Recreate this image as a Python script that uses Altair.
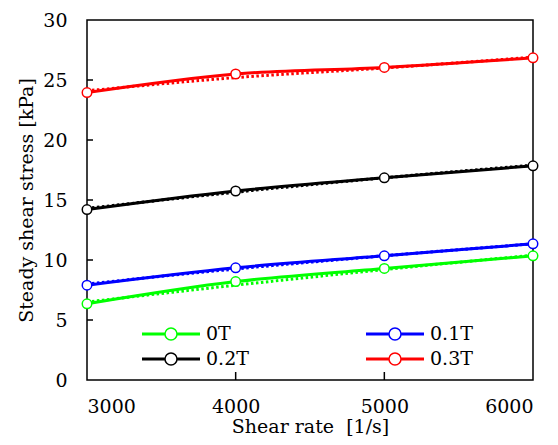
import altair as alt
import pandas as pd

shear_rate = [3000, 4000, 5000, 6000]
series = ["0T", "0.1T", "0.2T", "0.3T"]
colors = ["#00ff00", "#0000ff", "#000000", "#ff0000"]

stress_0T = [6.35, 8.2, 9.3, 10.35]
stress_01T = [7.9, 9.35, 10.35, 11.35]
stress_02T = [14.2, 15.75, 16.85, 17.85]
stress_03T = [23.95, 25.5, 26.05, 26.85]

fit_0T = [6.5, 7.9, 9.2, 10.4]
fit_01T = [8.0, 9.25, 10.35, 11.35]
fit_02T = [14.3, 15.65, 16.85, 17.9]
fit_03T = [24.1, 25.2, 26.0, 26.9]

y_tick_values = [0, 5, 10, 15, 20, 25, 30]
x_tick_values = [3000, 4000, 5000, 6000]
y_inner_ticks = [5, 10, 15, 20, 25]
x_inner_ticks = [4000, 5000]

measured = {"0T": stress_0T, "0.1T": stress_01T, "0.2T": stress_02T, "0.3T": stress_03T}
fitted = {"0T": fit_0T, "0.1T": fit_01T, "0.2T": fit_02T, "0.3T": fit_03T}

rows = []
for s in series:
    for i, x in enumerate(shear_rate):
        rows.append({"series": s, "rate": x, "stress": measured[s][i], "fit": fitted[s][i]})
df = pd.DataFrame(rows)

FONT = "DejaVu Serif"
FS = 19
W, H = 446, 360

xs = alt.Scale(domain=[3000, 6000], nice=False, zero=False)
ys = alt.Scale(domain=[0, 30], nice=False)
cs = alt.Scale(domain=series, range=colors)

# legend symbol: line with open circle (units of 10 px with symbolSize 400)
L = 2.9
r = 0.6
d = 0.075
sym = (
    f"M{-L},{-d}L{-r},{-d}M{r},{-d}L{L},{-d}"
    f"M{-L},0L{-r},0M{r},0L{L},0"
    f"M{-L},{d}L{-r},{d}M{r},{d}L{L},{d}"
    f"M{-r},0A{r},{r},0,1,1,{r},0A{r},{r},0,1,1,{-r},0"
)

legend = alt.Legend(
    title=None,
    orient="none",
    direction="horizontal",
    legendX=73,
    legendY=303,
    columns=2,
    columnPadding=114,
    rowPadding=4,
    symbolType=sym,
    symbolSize=400,
    symbolStrokeWidth=1.5,
    symbolOpacity=1,
    symbolFillColor="transparent",
    labelFont=FONT,
    labelFontSize=FS,
    labelColor="black",
    labelOffset=24,
    padding=0,
)
color_enc = alt.Color("series:N", scale=cs, sort=series, legend=legend)

x_axis = alt.Axis(
    values=x_tick_values,
    title="Shear rate \u00a0[1/s]",
    labelPadding=17,
    titlePadding=1,
    format="d",
)
y_axis = alt.Axis(
    values=y_tick_values,
    title="Steady shear stress [kPa]",
    labelPadding=20,
    titlePadding=6,
)

fit_layer = alt.Chart(df).mark_line(
    strokeWidth=3, strokeDash=[2.5, 2.5], interpolate="monotone"
).encode(
    x=alt.X("rate:Q", scale=xs, axis=x_axis),
    y=alt.Y("fit:Q", scale=ys, axis=y_axis),
    color=color_enc,
    detail="series:N",
)

line_layer = alt.Chart(df).mark_line(strokeWidth=3, interpolate="monotone").encode(
    x=alt.X("rate:Q", scale=xs, axis=x_axis),
    y=alt.Y("stress:Q", scale=ys, axis=y_axis),
    color=color_enc,
)

point_layer = alt.Chart(df).mark_point(
    shape="circle", size=90, filled=False, fill="white", fillOpacity=1, strokeWidth=1.5, opacity=1
).encode(
    x=alt.X("rate:Q", scale=xs, axis=x_axis),
    y=alt.Y("stress:Q", scale=ys, axis=y_axis),
    color=color_enc,
)

ytick_df = pd.DataFrame({"v": y_inner_ticks})
xtick_df = pd.DataFrame({"v": x_inner_ticks})

ytick_layer = alt.Chart(ytick_df).mark_rule(color="black", strokeWidth=1.5).encode(
    y=alt.Y("v:Q", scale=ys, axis=y_axis),
    x=alt.value(0),
    x2=alt.value(6),
)
xtick_layer = alt.Chart(xtick_df).mark_rule(color="black", strokeWidth=1.5).encode(
    x=alt.X("v:Q", scale=xs, axis=x_axis),
    y=alt.value(H),
    y2=alt.value(H - 8),
)

chart = (
    alt.layer(ytick_layer, xtick_layer, fit_layer, line_layer, point_layer)
    .properties(
        width=W,
        height=H,
        autosize=alt.AutoSizeParams(type="none"),
        padding={"left": 79, "top": 12, "right": 17, "bottom": 57},
        background="white",
    )
    .configure_view(stroke="black", strokeWidth=1.5)
    .configure_axis(
        grid=False,
        domain=False,
        ticks=False,
        labelFont=FONT,
        labelFontSize=FS,
        labelColor="black",
        titleFont=FONT,
        titleFontSize=FS,
        titleFontWeight="normal",
        titleColor="black",
    )
)

chart.save("out.html", embed_options={"renderer": "svg", "actions": False})
